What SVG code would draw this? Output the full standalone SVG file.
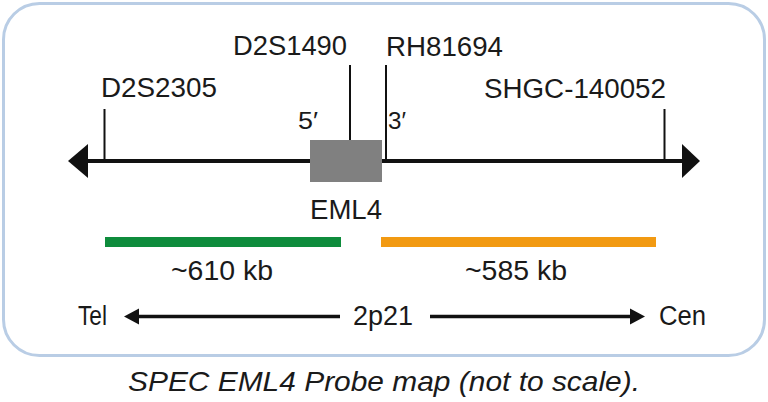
<svg xmlns="http://www.w3.org/2000/svg" width="768" height="402" viewBox="0 0 768 402">
<style>
text{font-family:"Liberation Sans",Arial,sans-serif;fill:#1a1a1a;}
.lbl{font-size:27px;}
.prime{font-size:23px;}
.small{font-size:27px;}
.cap{font-size:28px;font-style:italic;}
.tick{stroke:#111;stroke-width:2;}
.axis{stroke:#111;stroke-width:4;}
.axis2{stroke:#111;stroke-width:3.5;}
.head{fill:#111;}
</style>
<rect x="3.5" y="3.5" width="761" height="352" rx="36" fill="#fff" stroke="#b9cde5" stroke-width="3"/>
<g id="connectors">
<line class="axis" x1="84" y1="161" x2="686" y2="161"/>
<polygon class="head" points="68,161 88,144 88,178"/>
<polygon class="head" points="700,161 682,144 682,178"/>
<line class="tick" x1="104.5" y1="109" x2="104.5" y2="161"/>
<line class="tick" x1="350" y1="65" x2="350" y2="141"/>
<line class="tick" x1="386" y1="65" x2="386" y2="161"/>
<line class="tick" x1="664.5" y1="109" x2="664.5" y2="161"/>
<line class="axis2" x1="132" y1="316.5" x2="340" y2="316.5"/>
<polygon class="head" points="124,316.5 139,308.5 139,324.5"/>
<line class="axis2" x1="430" y1="316.5" x2="636" y2="316.5"/>
<polygon class="head" points="645,316.5 630,308.5 630,324.5"/>
</g>
<g id="eml4">
<rect x="310" y="140" width="72" height="42" fill="#808080"/>
<text class="lbl" x="310" y="219" textLength="72" lengthAdjust="spacingAndGlyphs">EML4</text>
<text class="prime" x="298" y="129" textLength="20" lengthAdjust="spacingAndGlyphs">5′</text>
<text class="prime" x="388" y="129" textLength="18" lengthAdjust="spacingAndGlyphs">3′</text>
</g>
<g id="d2s2305"><text class="lbl" x="101" y="97" textLength="116" lengthAdjust="spacingAndGlyphs">D2S2305</text></g>
<g id="d2s1490"><text class="lbl" x="233" y="55" textLength="114" lengthAdjust="spacingAndGlyphs">D2S1490</text></g>
<g id="rh81694"><text class="lbl" x="386" y="56" textLength="117" lengthAdjust="spacingAndGlyphs">RH81694</text></g>
<g id="shgc"><text class="lbl" x="484" y="98" textLength="182" lengthAdjust="spacingAndGlyphs">SHGC-140052</text></g>
<g id="green-probe">
<rect x="105" y="237" width="236" height="10" fill="#0e8c3c"/>
<text class="small" x="171" y="280" textLength="102" lengthAdjust="spacingAndGlyphs">~610 kb</text>
</g>
<g id="orange-probe">
<rect x="381" y="237" width="275" height="10" fill="#f29a12"/>
<text class="small" x="465" y="280" textLength="102" lengthAdjust="spacingAndGlyphs">~585 kb</text>
</g>
<g id="orientation">
<text class="small" x="78" y="325" textLength="29" lengthAdjust="spacingAndGlyphs">Tel</text>
<text class="small" x="353" y="325" textLength="60" lengthAdjust="spacingAndGlyphs">2p21</text>
<text class="small" x="659" y="325" textLength="47" lengthAdjust="spacingAndGlyphs">Cen</text>
</g>
<text class="cap" x="128" y="391" textLength="512" lengthAdjust="spacingAndGlyphs">SPEC EML4 Probe map (not to scale).</text>
</svg>
